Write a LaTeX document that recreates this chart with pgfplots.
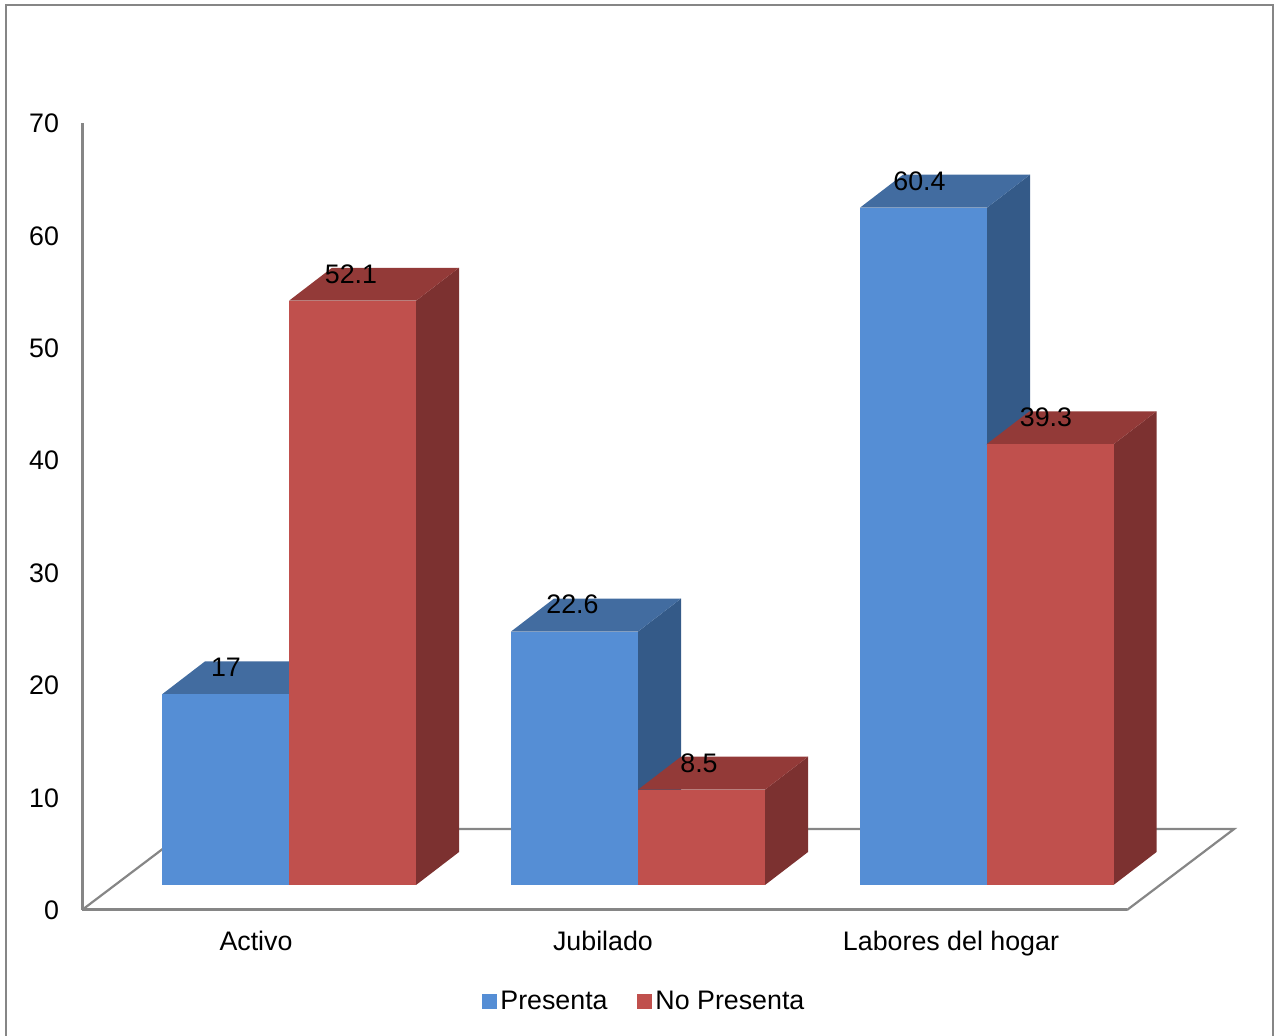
\documentclass[border=0pt]{standalone}
\usepackage{fontspec}
\setmainfont{Liberation Sans}
\usepackage{pgfplots}
\pgfplotsset{compat=1.18}
\newcommand{\chartfont}{\fontsize{13.4pt}{16pt}\selectfont}
\definecolor{axisgray}{HTML}{868686}
\definecolor{blueFront}{HTML}{558ED5}
\definecolor{blueTop}{HTML}{426CA0}
\definecolor{blueSide}{HTML}{345A88}
\definecolor{redFront}{HTML}{C0504D}
\definecolor{redTop}{HTML}{933A38}
\definecolor{redSide}{HTML}{7C3130}
% One prism: left edge, value, front colour, top colour, side colour.
% The depth runs 43 units right and 2.94 value units up; each face is 127 wide.
\newcommand{\prism}[5]{%
  \pgfmathsetmacro{\xr}{#1+127}%
  \pgfmathsetmacro{\xbl}{#1+43}%
  \pgfmathsetmacro{\xbr}{#1+170}%
  \pgfmathsetmacro{\vb}{#2+2.94}%
  \addplot[fill=#5,draw=none,forget plot] coordinates {(\xr,0)(\xr,#2)(\xbr,\vb)(\xbr,2.94)} --cycle;
  \addplot[fill=#4,draw=none,forget plot] coordinates {(#1,#2)(\xr,#2)(\xbr,\vb)(\xbl,\vb)} --cycle;
  \addplot[fill=#3,draw=none,forget plot] coordinates {(#1,0)(#1,#2)(\xr,#2)(\xr,0)} --cycle;
}
\begin{document}
\begin{tikzpicture}
\useasboundingbox (0,0) rectangle (638.5pt,518pt);
% outer chart frame, running off the lower edge of the page
\draw[axisgray,line width=1pt] (2.75pt,0) -- (2.75pt,515.5pt) -- (636.25pt,515.5pt) -- (636.25pt,0);

% value axis and floor
\begin{axis}[
  at={(41pt,63pt)}, anchor=south west,
  scale only axis, width=522.5pt, height=393.5pt,
  xmin=82, xmax=1127, ymin=0, ymax=70,
  clip=false, no markers,
  axis lines=left,
  x axis line style={axisgray,line width=1.5pt,-},
  y axis line style={axisgray,line width=1.5pt,-},
  major tick length=0pt,
  ytick={0,10,...,70},
  xtick={256,603,951},
  xticklabels={Activo,Jubilado,Labores del hogar},
  tick label style={font=\chartfont,black},
  yticklabel style={/pgf/number format/assume math mode=true,xshift=-8pt,yshift=-0.2pt},
  xticklabel style={anchor=base,yshift=-20.5pt},
]
\addplot[axisgray,line width=1.1pt] coordinates {(82,0)(189,7.2)(1234,7.2)(1127,0)};
\end{axis}

% bars, standing on the floor
\begin{axis}[
  at={(41pt,75.5pt)}, anchor=south west,
  scale only axis, width=522.5pt, height=392.5pt,
  xmin=82, xmax=1127, ymin=0, ymax=70,
  clip=false, no markers, hide axis,
  legend style={at={(axis cs:645,-10.42)},anchor=center,draw=none,fill=none,
    font=\chartfont,legend columns=2,inner sep=0pt,
    /tikz/every even column/.append style={column sep=12.5pt}},
  legend cell align=left,
]
\addlegendimage{legend image code/.code={\fill[blueFront] (0pt,-3.5pt) rectangle (7pt,3.5pt);}}
\addlegendimage{legend image code/.code={\fill[redFront] (0pt,-3.5pt) rectangle (7pt,3.5pt);}}
\legend{Presenta,No Presenta}
\prism{162}{17}{blueFront}{blueTop}{blueSide}
\prism{289}{52.1}{redFront}{redTop}{redSide}
\prism{511}{22.6}{blueFront}{blueTop}{blueSide}
\prism{638}{8.5}{redFront}{redTop}{redSide}
\prism{860}{60.4}{blueFront}{blueTop}{blueSide}
\prism{986.5}{39.3}{redFront}{redTop}{redSide}
% value labels over the top faces
\addplot[draw=none,forget plot,
  nodes near coords,point meta=y,
  every node near coord/.style={font=\chartfont,black,anchor=center,yshift=13.4pt,inner sep=0pt,
    /pgf/number format/assume math mode=true,/pgf/number format/fixed,/pgf/number format/precision=1}]
  coordinates {(226,17)(351,52.1)(572.5,22.6)(699,8.5)(919.5,60.4)(1046,39.3)};
\end{axis}
\end{tikzpicture}
\end{document}
